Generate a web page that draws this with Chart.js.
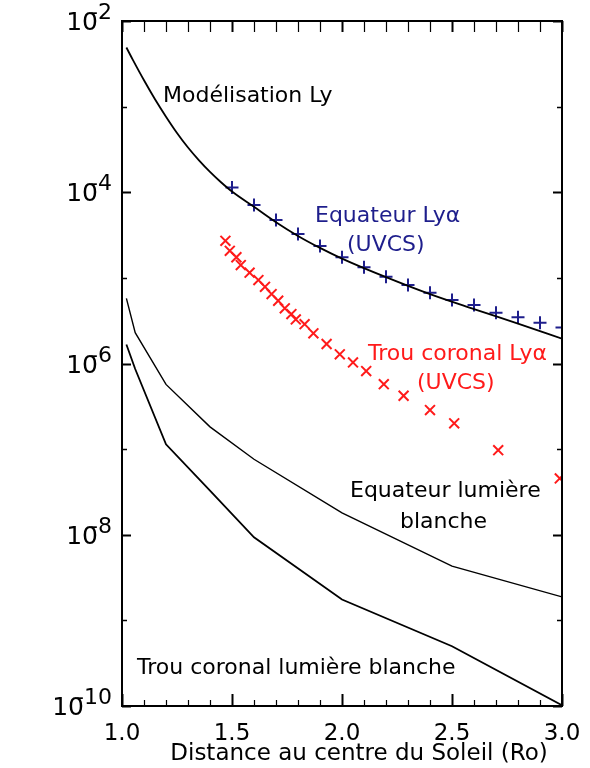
<!DOCTYPE html>
<html><head><meta charset="utf-8">
<script src="https://cdn.jsdelivr.net/npm/chart.js@4.4.1/dist/chart.umd.min.js"></script>
<style>html,body{margin:0;padding:0;background:#fff;}canvas{display:block;}</style>
</head><body>
<canvas id="c" width="590" height="768"></canvas>
<script>
// ---- data (distance in solar radii, intensity) ----
const modelR = [1.02,1.05,1.1,1.15,1.2,1.25,1.3,1.35,1.4,1.45,1.5,1.6,1.7,1.8,1.9,2.0,2.2,2.4,2.6,2.8,3.0];
const modelI = [4.9e-3,3.49e-3,2.03e-3,1.22e-3,7.64e-4,4.93e-4,3.33e-4,2.36e-4,1.73e-4,1.31e-4,1.02e-4,6.76e-5,4.47e-5,3.09e-5,2.24e-5,1.68e-5,1.02e-5,6.46e-6,4.32e-6,2.92e-6,1.95e-6];

const eqUvcsR = [1.5,1.6,1.7,1.8,1.9,2.0,2.1,2.2,2.3,2.4,2.5,2.6,2.7,2.8,2.9,3.0];
const eqUvcsI = [1.14e-4,7.08e-5,4.73e-5,3.25e-5,2.36e-5,1.74e-5,1.33e-5,1.03e-5,8.24e-6,6.7e-6,5.51e-6,4.81e-6,3.91e-6,3.46e-6,2.99e-6,2.64e-6];

const chUvcsR = [1.47,1.49,1.52,1.54,1.58,1.62,1.65,1.68,1.71,1.74,1.77,1.79,1.83,1.87,1.93,1.99,2.05,2.11,2.19,2.28,2.40,2.51,2.71,2.99];
const chUvcsI = [2.71e-5,2.07e-5,1.74e-5,1.41e-5,1.15e-5,9.42e-6,7.87e-6,6.47e-6,5.41e-6,4.41e-6,3.78e-6,3.27e-6,2.88e-6,2.25e-6,1.69e-6,1.28e-6,1.03e-6,8.15e-7,5.74e-7,4.2e-7,2.86e-7,2.0e-7,9.73e-8,4.55e-8];

const eqWlR = [1.02,1.06,1.2,1.4,1.6,2.0,2.5,3.0];
const eqWlI = [5.77e-6,2.29e-6,5.7e-7,1.82e-7,7.62e-8,1.8e-8,4.3e-9,1.88e-9];

const chWlR = [1.02,1.06,1.2,1.4,1.6,2.0,2.5,3.0];
const chWlI = [1.67e-6,8.63e-7,1.14e-7,3.27e-8,9.35e-9,1.75e-9,4.99e-10,1.02e-10];

const xTickValues = [1.0,1.5,2.0,2.5,3.0];
const yTickExponents = [-2,-4,-6,-8,-10];

const FONT = '"DejaVu Sans", Verdana, sans-serif';
const NAVY = '#1e1e8c';
const RED = '#ff1a1a';

const pts = (xs, ys) => xs.map((x, i) => ({x: x, y: ys[i]}));

const decor = {
  id: 'decor',
  afterDraw(chart) {
    const {ctx, chartArea: a, scales: {x, y}} = chart;
    ctx.save();
    ctx.strokeStyle = '#000';
    // frame
    ctx.lineWidth = 2;
    ctx.strokeRect(a.left, a.top, a.right - a.left, a.bottom - a.top);
    // x ticks (bottom & top)
    for (let k = 10; k <= 30; k++) {
      const v = k / 10;
      const px = Math.round(x.getPixelForValue(v)) + 0.5;
      const major = k % 5 === 0;
      ctx.lineWidth = major ? 2 : 1.2;
      const lb = major ? 12 : 6;
      ctx.beginPath();
      ctx.moveTo(px, a.bottom); ctx.lineTo(px, a.bottom - lb);
      ctx.moveTo(px, a.top); ctx.lineTo(px, a.top + 11);
      ctx.stroke();
    }
    // y ticks (left & right)
    for (let e = -10; e <= -2; e++) {
      const py = Math.round(y.getPixelForValue(Math.pow(10, e))) + 0.5;
      const major = e % 2 === 0;
      const l = major ? 9 : 5;
      ctx.lineWidth = major ? 2 : 1.5;
      ctx.beginPath();
      ctx.moveTo(a.left, py); ctx.lineTo(a.left + l, py);
      ctx.moveTo(a.right, py); ctx.lineTo(a.right - l, py);
      ctx.stroke();
    }
    // y tick labels 10^n
    ctx.fillStyle = '#000';
    ctx.textBaseline = 'alphabetic';
    ctx.textAlign = 'left';
    yTickExponents.forEach(e => {
      const py = y.getPixelForValue(Math.pow(10, e));
      const sup = String(e);
      ctx.font = '22px ' + FONT;
      const ws = ctx.measureText(sup).width;
      ctx.font = '25px ' + FONT;
      const w1 = ctx.measureText('1').width;
      const w0 = ctx.measureText('0').width;
      const end = 112;
      const supX = end - ws;
      const x0 = supX - w1 - w0 * 0.5;
      ctx.fillText('10', x0, py + 9);
      ctx.font = '22px ' + FONT;
      ctx.fillText(sup, supX, py - 2);
    });
    // axis title
    ctx.font = '23px ' + FONT;
    ctx.textAlign = 'center';
    ctx.fillText('Distance au centre du Soleil (Ro)', 359, 760);
    // annotations
    ctx.font = '22px ' + FONT;
    ctx.textAlign = 'left';
    ctx.fillStyle = '#000';
    ctx.fillText('Modélisation Ly', 163, 102);
    ctx.fillText('Equateur lumière', 350, 497);
    ctx.fillText('blanche', 400, 528);
    ctx.fillText('Trou coronal lumière blanche', 137, 674);
    ctx.fillStyle = NAVY;
    ctx.fillText('Equateur Lyα', 315, 222);
    ctx.fillText('(UVCS)', 347, 251);
    ctx.fillStyle = RED;
    ctx.fillText('Trou coronal Lyα', 368, 360);
    ctx.fillText('(UVCS)', 417, 389);
    ctx.restore();
  }
};

new Chart(document.getElementById('c'), {
  type: 'scatter',
  data: {
    datasets: [
      {label: 'Modélisation Ly', data: pts(modelR, modelI), showLine: true, borderColor: '#000', borderWidth: 1.8, pointRadius: 0, tension: 0.4, cubicInterpolationMode: 'monotone'},
      {label: 'Equateur lumière blanche', data: pts(eqWlR, eqWlI), showLine: true, borderColor: '#000', borderWidth: 1.4, pointRadius: 0},
      {label: 'Trou coronal lumière blanche', data: pts(chWlR, chWlI), showLine: true, borderColor: '#000', borderWidth: 1.8, pointRadius: 0},
      {label: 'Equateur Lyα (UVCS)', data: pts(eqUvcsR, eqUvcsI), showLine: false, pointStyle: 'cross', pointRadius: 6.5, borderColor: NAVY, backgroundColor: NAVY, pointBorderWidth: 2},
      {label: 'Trou coronal Lyα (UVCS)', data: pts(chUvcsR, chUvcsI), showLine: false, pointStyle: 'crossRot', pointRadius: 7, borderColor: RED, backgroundColor: RED, pointBorderWidth: 2}
    ]
  },
  options: {
    responsive: false,
    animation: false,
    layout: {padding: {top: 21, right: 28, left: 0, bottom: 0}},
    plugins: {legend: {display: false}, tooltip: {enabled: false}},
    scales: {
      x: {
        type: 'linear', min: 1, max: 3,
        grid: {display: false, drawTicks: false},
        border: {display: false},
        afterBuildTicks: s => { s.ticks = xTickValues.map(v => ({value: v})); },
        ticks: {
          padding: 14, color: '#000', font: {family: FONT, size: 23}, maxRotation: 0, autoSkip: false,
          callback: v => Number(v).toFixed(1)
        },
        afterFit: s => { s.height = 62; s.paddingLeft = 0; s.paddingRight = 0; }
      },
      y: {
        type: 'logarithmic', min: 1e-10, max: 1e-2,
        grid: {display: false, drawTicks: false},
        border: {display: false},
        ticks: {display: false},
        afterFit: s => { s.width = 122; }
      }
    }
  },
  plugins: [decor]
});
</script>
</body></html>
